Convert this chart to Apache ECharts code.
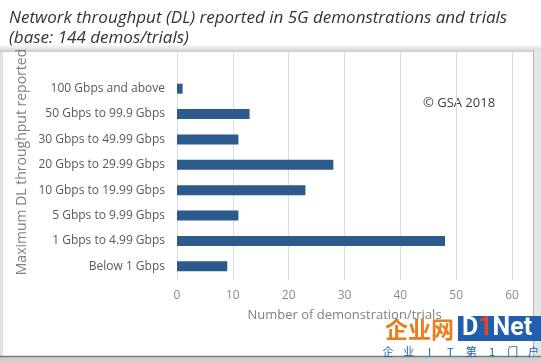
<!DOCTYPE html>
<html>
<head>
<meta charset="utf-8">
<script src="https://cdn.jsdelivr.net/npm/echarts@6/dist/echarts.min.js"></script>
<style>html,body{margin:0;padding:0;background:#fff}#c{width:541px;height:361px}</style>
</head>
<body>
<div id="c"></div>
<script>
var categories = ['Below 1 Gbps','1 Gbps to 4.99 Gbps','5 Gbps to 9.99 Gbps','10 Gbps to 19.99 Gbps','20 Gbps to 29.99 Gbps','30 Gbps to 49.99 Gbps','50 Gbps to 99.9 Gbps','100 Gbps and above'];
var values = [9, 48, 11, 23, 28, 11, 13, 1];
var xTicks = [0, 10, 20, 30, 40, 50, 60];
var sloganChars = ['企','业','I','T','第','1','门','户'];

var font = '"Open Sans", "Noto Sans", sans-serif';
var chart = echarts.init(document.getElementById('c'));
var graphics = [
    {type: 'rect', shape: {x: 0, y: 44, width: 541, height: 8},
     style: {fill: new echarts.graphic.LinearGradient(0, 0, 0, 1, [{offset: 0, color: 'rgba(220,220,220,0)'}, {offset: 1, color: 'rgba(200,200,200,1)'}])}, z: -1},
    {type: 'rect', shape: {x: 0, y: 52, width: 3, height: 309}, style: {fill: '#e2e2e2'}, z: -1},
    {type: 'rect', shape: {x: 533, y: 50, width: 8, height: 311}, style: {fill: '#e6e6e6'}, z: -1},
    {type: 'line', shape: {x1: 533.5, y1: 50, x2: 533.5, y2: 356}, style: {stroke: '#b5b5b5', lineWidth: 1}},
    {type: 'rect', shape: {x: 0, y: 356, width: 541, height: 5}, style: {fill: '#cfcfcf'}, z: -1},
    {type: 'line', shape: {x1: 0, y1: 356.5, x2: 541, y2: 356.5}, style: {stroke: '#7a7a7a', lineWidth: 1.5}},
    {type: 'text', x: 22, y: 162, rotation: Math.PI / 2,
     style: {text: 'Maximum DL throughput reported', fill: '#808080', fontSize: 14, fontFamily: font, align: 'center', verticalAlign: 'middle'}},
    {type: 'text', x: 423, y: 103,
     style: {text: '© GSA 2018', fill: '#404040', fontSize: 13, fontFamily: font, align: 'left', verticalAlign: 'middle'}},
    {type: 'text', x: 385, y: 329,
     style: {text: '企业网', fill: '#ee7a1c', fontSize: 23, fontWeight: 'bold', fontFamily: '"Noto Sans CJK SC", sans-serif', align: 'left', verticalAlign: 'middle'}},
    {type: 'rect', shape: {x: 458, y: 316, width: 83, height: 25}, style: {fill: '#1f5fae'}},
    {type: 'text', x: 462, y: 329,
     style: {text: '{a|D}{b|1}{a|Net}', align: 'left', verticalAlign: 'middle',
       rich: {a: {fill: '#fff', fontSize: 25, fontWeight: 'bold', fontFamily: 'Roboto, sans-serif'},
              b: {fill: '#e8452c', fontSize: 25, fontWeight: 'bold', fontFamily: 'Roboto, sans-serif'}}}}
];
sloganChars.forEach(function (ch, i) {
  graphics.push({type: 'text', x: 388 + i * 20.8, y: 352,
    style: {text: ch, fill: '#1f5fae', fontSize: 11, fontFamily: '"Noto Sans CJK SC", sans-serif', align: 'center', verticalAlign: 'middle'}});
});

chart.setOption({
  animation: false,
  title: {
    text: 'Network throughput (DL) reported in 5G demonstrations and trials\n(base: 144 demos/trials)',
    left: 4, top: 3,
    textStyle: {fontFamily: font, fontStyle: 'italic', fontWeight: 'normal', fontSize: 17, lineHeight: 20, color: '#333'}
  },
  grid: [
    {left: 177, right: 29, top: 76, bottom: 82},
    {left: 177, right: 29, top: 52, bottom: 81}
  ],
  xAxis: [
    {gridIndex: 0, type: 'value', min: xTicks[0], max: xTicks[xTicks.length-1], interval: 10,
     axisLine: {show: false}, axisTick: {show: false}, splitLine: {show: false},
     axisLabel: {color: '#8c8c8c', fontSize: 12, fontFamily: font, margin: 11},
     name: 'Number of demonstration/trials', nameLocation: 'middle', nameGap: 30,
     nameTextStyle: {color: '#808080', fontSize: 13, fontFamily: font}},
    {gridIndex: 1, type: 'value', min: xTicks[0], max: xTicks[xTicks.length-1], interval: 10,
     axisLine: {show: false}, axisTick: {show: false}, axisLabel: {show: false},
     splitLine: {show: true, lineStyle: {color: '#dcdcdc', width: 1}}}
  ],
  yAxis: [
    {gridIndex: 0, type: 'category', data: categories,
     axisLine: {show: false}, axisTick: {show: false},
     axisLabel: {color: '#595959', fontSize: 12, fontFamily: font, margin: 12}},
    {gridIndex: 1, type: 'value', show: false, min: 0, max: 1}
  ],
  series: [{
    type: 'bar', xAxisIndex: 0, yAxisIndex: 0, data: values, barWidth: 10,
    itemStyle: {color: '#2c5a8c'}, silent: true
  }],
  graphic: graphics
});
</script>
</body>
</html>
